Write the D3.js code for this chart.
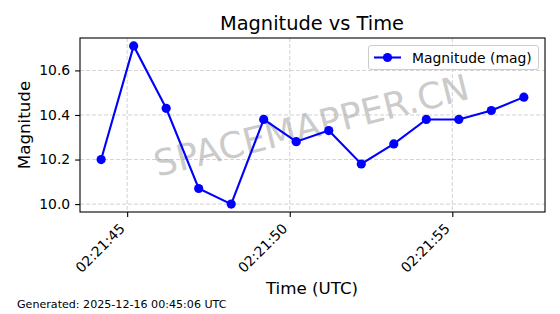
<!DOCTYPE html>
<html>
<head>
<meta charset="utf-8">
<script src="https://cdn.jsdelivr.net/npm/d3@7"></script>
<style>
  body { margin: 0; background: #fff; }
  svg { font-family: "DejaVu Sans", sans-serif; }
</style>
</head>
<body>
<svg width="560" height="314"></svg>
<script>
// seconds past 02:21:00 UTC
const seconds = [44.2, 45.2, 46.2, 47.2, 48.2, 49.2, 50.2, 51.2, 52.2, 53.2, 54.2, 55.2, 56.2, 57.2];
const magnitude = [10.20, 10.71, 10.43, 10.07, 10.00, 10.38, 10.28, 10.33, 10.18, 10.27, 10.38, 10.38, 10.42, 10.48];
const xTicks = [45, 50, 55];
const xTickLabels = ["02:21:45", "02:21:50", "02:21:55"];
const yTicks = [10.0, 10.2, 10.4, 10.6];

const base = Date.UTC(2025, 11, 16, 2, 21, 0);
const toDate = s => new Date(base + s * 1000);

let data = seconds.map((s, i) => ({ t: toDate(s), v: magnitude[i] }));

let svg = d3.select('svg');
let plotLeft = 80, plotRight = 545, plotTop = 38, plotBottom = 212;

// matplotlib style 5% margins
let xMin = d3.min(seconds), xMax = d3.max(seconds);
let xPad = (xMax - xMin) * 0.05;
let yMin = d3.min(magnitude), yMax = d3.max(magnitude);
let yPad = (yMax - yMin) * 0.05;

let x = d3.scaleUtc()
    .domain([toDate(xMin - xPad), toDate(xMax + xPad)])
    .range([plotLeft, plotRight]);
let y = d3.scaleLinear()
    .domain([yMin - yPad, yMax + yPad])
    .range([plotBottom, plotTop]);

// grid
let grid = svg.append('g');
xTicks.forEach(s => {
    grid.append('line')
        .attr('x1', x(toDate(s))).attr('x2', x(toDate(s)))
        .attr('y1', plotTop).attr('y2', plotBottom)
        .attr('stroke', '#b0b0b0').attr('stroke-width', 0.8)
        .attr('stroke-dasharray', '4,2').attr('opacity', 0.7);
});
yTicks.forEach(v => {
    grid.append('line')
        .attr('x1', plotLeft).attr('x2', plotRight)
        .attr('y1', y(v)).attr('y2', y(v))
        .attr('stroke', '#b0b0b0').attr('stroke-width', 0.8)
        .attr('stroke-dasharray', '4,2').attr('opacity', 0.7);
});

// watermark
svg.append('text')
    .attr('transform', 'translate(312,128) rotate(-14)')
    .attr('text-anchor', 'middle')
    .attr('dominant-baseline', 'middle')
    .attr('font-size', 36)
    .attr('fill', '#999')
    .attr('opacity', 0.5)
    .text('SPACEMAPPER.CN');

// axes
let xAxis = d3.axisBottom(x)
    .tickValues(xTicks.map(toDate))
    .tickFormat((d, i) => xTickLabels[i])
    .tickSizeOuter(0).tickSize(4.9).tickPadding(4.9);
let gx = svg.append('g')
    .attr('transform', `translate(0,${plotBottom})`)
    .call(xAxis);
gx.select('.domain').remove();
gx.selectAll('text')
    .attr('font-family', '"DejaVu Sans", sans-serif')
    .attr('font-size', 13.9)
    .attr('fill', '#000')
    .attr('text-anchor', 'end')
    .attr('dy', null)
    .attr('y', 0).attr('x', 0)
    .attr('transform', 'translate(-2,17.5) rotate(-45)');

let yAxis = d3.axisLeft(y)
    .tickValues(yTicks)
    .tickFormat(d3.format('.1f'))
    .tickSizeOuter(0).tickSize(4.9).tickPadding(4.9);
let gy = svg.append('g')
    .attr('transform', `translate(${plotLeft},0)`)
    .call(yAxis);
gy.select('.domain').remove();
gy.selectAll('text')
    .attr('font-family', '"DejaVu Sans", sans-serif')
    .attr('font-size', 13.9).attr('fill', '#000');

svg.selectAll('.tick line').attr('stroke', '#000').attr('stroke-width', 1.1);

// frame
svg.append('rect')
    .attr('x', plotLeft).attr('y', plotTop)
    .attr('width', plotRight - plotLeft).attr('height', plotBottom - plotTop)
    .attr('fill', 'none').attr('stroke', '#000').attr('stroke-width', 1.1);

// line + markers
let line = d3.line().x(d => x(d.t)).y(d => y(d.v));
svg.append('path')
    .datum(data)
    .attr('d', line)
    .attr('fill', 'none')
    .attr('stroke', '#0000ff')
    .attr('stroke-width', 2.1);
svg.selectAll('circle.dot')
    .data(data)
    .enter()
    .append('circle')
        .attr('class', 'dot')
        .attr('cx', d => x(d.t))
        .attr('cy', d => y(d.v))
        .attr('r', 4.6)
        .attr('fill', '#0000ff');

// legend
let lg = svg.append('g');
lg.append('rect')
    .attr('x', 368.5).attr('y', 45.5).attr('width', 170).attr('height', 24)
    .attr('rx', 2.5)
    .attr('fill', '#fff').attr('fill-opacity', 0.8)
    .attr('stroke', '#ccc').attr('stroke-width', 1);
lg.append('line')
    .attr('x1', 374).attr('x2', 401).attr('y1', 57.5).attr('y2', 57.5)
    .attr('stroke', '#0000ff').attr('stroke-width', 2.1);
lg.append('circle')
    .attr('cx', 387.5).attr('cy', 57.5).attr('r', 4.6).attr('fill', '#0000ff');
lg.append('text')
    .attr('x', 412).attr('y', 62.5)
    .attr('font-size', 13.9)
    .text('Magnitude (mag)');

// titles
svg.append('text')
    .attr('x', 312).attr('y', 30)
    .attr('text-anchor', 'middle')
    .attr('font-size', 19.4)
    .text('Magnitude vs Time');
svg.append('text')
    .attr('x', 312).attr('y', 294)
    .attr('text-anchor', 'middle')
    .attr('font-size', 16.7)
    .text('Time (UTC)');
svg.append('text')
    .attr('transform', 'translate(30,125) rotate(-90)')
    .attr('text-anchor', 'middle')
    .attr('font-size', 16.7)
    .text('Magnitude');
svg.append('text')
    .attr('x', 17).attr('y', 308)
    .attr('font-size', 11.1)
    .text('Generated: 2025-12-16 00:45:06 UTC');
</script>
</body>
</html>
